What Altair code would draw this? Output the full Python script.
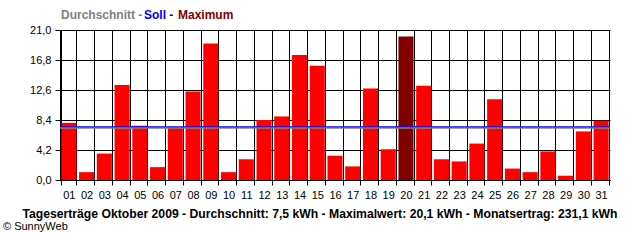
import altair as alt
import pandas as pd

days = [f"{d:02d}" for d in range(1, 32)]
values = [8.0, 1.1, 3.7, 13.3, 7.6, 1.8, 7.4, 12.4, 19.1, 1.1,
          2.9, 8.4, 8.9, 17.5, 16.0, 3.4, 1.9, 12.8, 4.3, 20.1,
          13.2, 2.9, 2.6, 5.1, 11.3, 1.6, 1.1, 4.0, 0.6, 6.8, 8.3]
average = 7.3
target = 7.45
y_ticks = [0, 4.2, 8.4, 12.6, 16.8, 21.0]

max_val = max(values)
df = pd.DataFrame({"day": days, "value": values,
                   "kind": ["max" if v == max_val else "day" for v in values]})

FONT = "Liberation Sans"
yscale = alt.Scale(domain=[0, 21], nice=False, zero=True)

x = alt.X("day:O", sort=days, title=None,
          scale=alt.Scale(paddingInner=0.15, paddingOuter=0.075),
          axis=alt.Axis(labelAngle=0, tickBand="extent", grid=True,
                        gridColor="black", gridOpacity=1, gridWidth=1,
                        tickColor="black", tickSize=5, domainColor="black",
                        labelColor="black", labelFont=FONT, labelFontSize=11,
                        labelPadding=4, labelOverlap=False))
y = alt.Y("value:Q", title=None, scale=yscale,
          axis=alt.Axis(values=y_ticks, grid=True, gridColor="black",
                        gridOpacity=1, gridWidth=1, tickColor="black",
                        tickSize=5, domainColor="black", labelColor="black",
                        labelFont=FONT, labelFontSize=11, labelPadding=4,
                        labelOverlap=False, labelFlush=False,
                        labelExpr="replace(format(datum.value, '.1f'), '.', ',')"))

bars = alt.Chart(df).mark_bar().encode(
    x=x, y=y,
    color=alt.Color("kind:N", scale=alt.Scale(domain=["day", "max"],
                                              range=["#ff0000", "#800000"]),
                    legend=None),
)

avg_rule = alt.Chart(pd.DataFrame({"value": [average]})).mark_rule(
    color="#808080", strokeWidth=2).encode(y=y)
soll_rule = alt.Chart(pd.DataFrame({"value": [target]})).mark_rule(
    color="#0000ff", strokeWidth=1).encode(y=y)

def label(text, xv, yv, color="black", size=12, weight="bold", align="left"):
    return alt.Chart(pd.DataFrame({"t": [text]})).mark_text(
        font=FONT, fontSize=size, fontWeight=weight, color=color,
        align=align, baseline="middle").encode(
        text="t:N", x=alt.value(xv), y=alt.value(yv))

t1 = label("Durchschnitt -", 1, -15, "#808080")
t2 = label("Soll -", 84, -15, "#0000ff")
t3 = label("Maximum", 118, -15, "#800000")
bottom = label("Tageserträge Oktober 2009 - Durchschnitt: 7,5 kWh - Maximalwert: 20,1 kWh - Monatsertrag: 231,1 kWh",
               260, 184, "black", 12.2, "bold", "center")
copy = label("© SunnyWeb", -57, 197, "black", 11, "normal")

chart = alt.layer(bars, avg_rule, soll_rule, t1, t2, t3, bottom, copy).properties(
    width=550, height=150,
    autosize=alt.AutoSizeParams(type="none"),
    padding={"left": 60, "top": 30, "right": 30, "bottom": 60},
    background="white",
).configure_view(stroke=None)

chart.save("out.html", embed_options={"renderer": "svg", "actions": False})
